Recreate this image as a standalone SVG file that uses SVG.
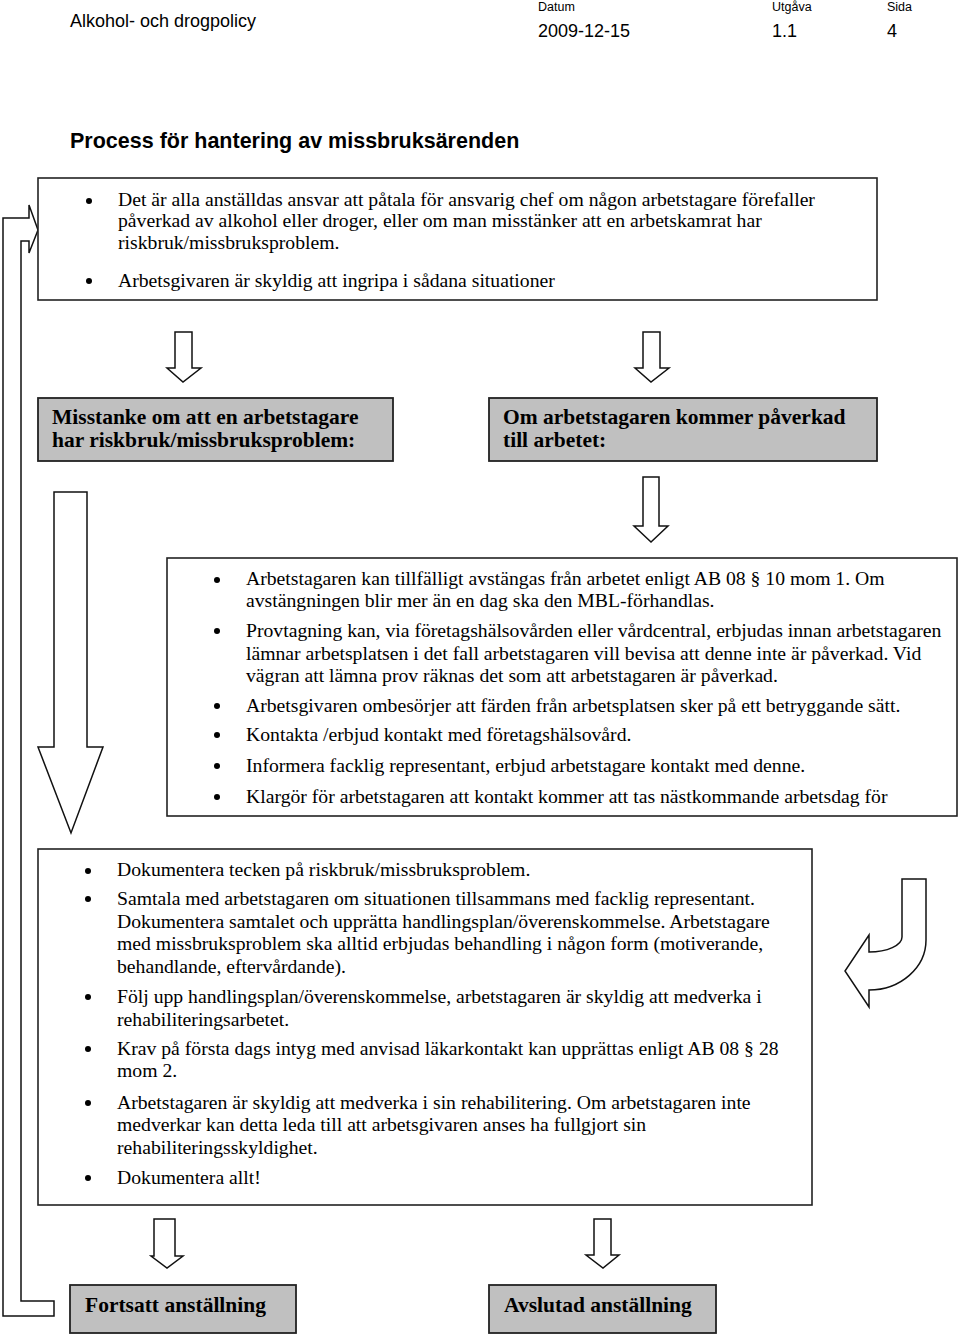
<svg xmlns="http://www.w3.org/2000/svg" width="960" height="1335" viewBox="0 0 960 1335">
<style>
.hdr{font-family:"Liberation Sans",Arial,sans-serif;fill:#000}
.t{font-family:"Liberation Serif","Times New Roman",serif;font-size:19.7px;fill:#000}
.b{font-family:"Liberation Serif","Times New Roman",serif;font-size:21.5px;font-weight:bold;fill:#000}
.box{fill:#fff;stroke:#222;stroke-width:1.6}
.gbox{fill:#c0c0c0;stroke:#222;stroke-width:1.8}
.arr{fill:#fff;stroke:#111;stroke-width:1.5;stroke-linejoin:miter}
.dot{fill:#000}
</style>
<rect width="960" height="1335" fill="#fff"/>
<g id="header">
<text class="hdr" x="70" y="27" font-size="18">Alkohol- och drogpolicy</text>
<text class="hdr" x="538" y="11" font-size="12.5">Datum</text>
<text class="hdr" x="538" y="37" font-size="18">2009-12-15</text>
<text class="hdr" x="772" y="11" font-size="12.5">Utgåva</text>
<text class="hdr" x="772" y="37" font-size="18">1.1</text>
<text class="hdr" x="887" y="11" font-size="12.5">Sida</text>
<text class="hdr" x="887" y="37" font-size="18">4</text>
<text class="hdr" x="70" y="148" font-size="21.5" font-weight="bold">Process för hantering av missbruksärenden</text>
</g>
<g id="connectors">
<path class="arr" d="M54 1316 L3 1316 L3 218 L29 218 L29 205 L38 230 L29 253 L29 241 L21 241 L21 1301 L54 1301 Z"/>
<path class="arr" d="M175 332 L192 332 L192 368 L201 368 L183 382 L167 368 L175 368 Z"/>
<path class="arr" d="M643 332 L660 332 L660 368 L669 368 L651 382 L635 368 L643 368 Z"/>
<path class="arr" d="M643 477 L659 477 L659 526 L668 526 L651 542 L634 526 L643 526 Z"/>
<path class="arr" d="M54 492 L87 492 L87 747 L103 747 L71 833 L38 747 L54 747 Z"/>
<path class="arr" d="M902 879 L926 879 L926 940 A57 50 0 0 1 869 990 L869 1007 L845 971 L869 935 L869 952 A33 15 0 0 0 902 937 Z"/>
<path class="arr" d="M154 1219 L175 1219 L175 1256 L183 1256 L167 1268 L151 1256 L154 1256 Z"/>
<path class="arr" d="M594 1219 L611 1219 L611 1255 L619 1255 L603 1268 L586 1255 L594 1255 Z"/>
</g>
<g id="box1">
<rect class="box" x="38" y="178" width="839" height="122"/>
<circle class="dot" cx="89" cy="201" r="3"/>
<text class="t" x="118" y="206">Det är alla anställdas ansvar att påtala för ansvarig chef om någon arbetstagare förefaller</text>
<text class="t" x="118" y="227">påverkad av alkohol eller droger, eller om man misstänker att en arbetskamrat har</text>
<text class="t" x="118" y="249">riskbruk/missbruksproblem.</text>
<circle class="dot" cx="89" cy="281" r="3"/>
<text class="t" x="118" y="287">Arbetsgivaren är skyldig att ingripa i sådana situationer</text>
</g>
<g id="misstanke">
<rect class="gbox" x="38" y="398" width="355" height="63"/>
<text class="b" x="52" y="424">Misstanke om att en arbetstagare</text>
<text class="b" x="52" y="447">har riskbruk/missbruksproblem:</text>
</g>
<g id="paverkad">
<rect class="gbox" x="489" y="398" width="388" height="63"/>
<text class="b" x="503" y="424">Om arbetstagaren kommer påverkad</text>
<text class="b" x="503" y="447">till arbetet:</text>
</g>
<g id="box2">
<rect class="box" x="167" y="558" width="790" height="258"/>
<circle class="dot" cx="217" cy="580" r="3"/>
<text class="t" x="246" y="585">Arbetstagaren kan tillfälligt avstängas från arbetet enligt AB 08 § 10 mom 1. Om</text>
<text class="t" x="246" y="607">avstängningen blir mer än en dag ska den MBL-förhandlas.</text>
<circle class="dot" cx="217" cy="631" r="3"/>
<text class="t" x="246" y="637">Provtagning kan, via företagshälsovården eller vårdcentral, erbjudas innan arbetstagaren</text>
<text class="t" x="246" y="660">lämnar arbetsplatsen i det fall arbetstagaren vill bevisa att denne inte är påverkad. Vid</text>
<text class="t" x="246" y="682">vägran att lämna prov räknas det som att arbetstagaren är påverkad.</text>
<circle class="dot" cx="217" cy="706" r="3"/>
<text class="t" x="246" y="712">Arbetsgivaren ombesörjer att färden från arbetsplatsen sker på ett betryggande sätt.</text>
<circle class="dot" cx="217" cy="735" r="3"/>
<text class="t" x="246" y="741">Kontakta /erbjud kontakt med företagshälsovård.</text>
<circle class="dot" cx="217" cy="766" r="3"/>
<text class="t" x="246" y="772">Informera facklig representant, erbjud arbetstagare kontakt med denne.</text>
<circle class="dot" cx="217" cy="797" r="3"/>
<text class="t" x="246" y="803">Klargör för arbetstagaren att kontakt kommer att tas nästkommande arbetsdag för</text>
</g>
<g id="box3">
<rect class="box" x="38" y="849" width="774" height="356"/>
<circle class="dot" cx="88" cy="871" r="3"/>
<text class="t" x="117" y="876">Dokumentera tecken på riskbruk/missbruksproblem.</text>
<circle class="dot" cx="88" cy="899" r="3"/>
<text class="t" x="117" y="905">Samtala med arbetstagaren om situationen tillsammans med facklig representant.</text>
<text class="t" x="117" y="928">Dokumentera samtalet och upprätta handlingsplan/överenskommelse. Arbetstagare</text>
<text class="t" x="117" y="950">med missbruksproblem ska alltid erbjudas behandling i någon form (motiverande,</text>
<text class="t" x="117" y="973">behandlande, eftervårdande).</text>
<circle class="dot" cx="88" cy="997" r="3"/>
<text class="t" x="117" y="1003">Följ upp handlingsplan/överenskommelse, arbetstagaren är skyldig att medverka i</text>
<text class="t" x="117" y="1026">rehabiliteringsarbetet.</text>
<circle class="dot" cx="88" cy="1049" r="3"/>
<text class="t" x="117" y="1055">Krav på första dags intyg med anvisad läkarkontakt kan upprättas enligt AB 08 § 28</text>
<text class="t" x="117" y="1077">mom 2.</text>
<circle class="dot" cx="88" cy="1103" r="3"/>
<text class="t" x="117" y="1109">Arbetstagaren är skyldig att medverka i sin rehabilitering. Om arbetstagaren inte</text>
<text class="t" x="117" y="1131">medverkar kan detta leda till att arbetsgivaren anses ha fullgjort sin</text>
<text class="t" x="117" y="1154">rehabiliteringsskyldighet.</text>
<circle class="dot" cx="88" cy="1178" r="3"/>
<text class="t" x="117" y="1184">Dokumentera allt!</text>
</g>
<g id="fortsatt">
<rect class="gbox" x="70" y="1285" width="226" height="48"/>
<text class="b" x="85" y="1312">Fortsatt anställning</text>
</g>
<g id="avslutad">
<rect class="gbox" x="489" y="1285" width="227" height="48"/>
<text class="b" x="504" y="1312">Avslutad anställning</text>
</g>
</svg>
